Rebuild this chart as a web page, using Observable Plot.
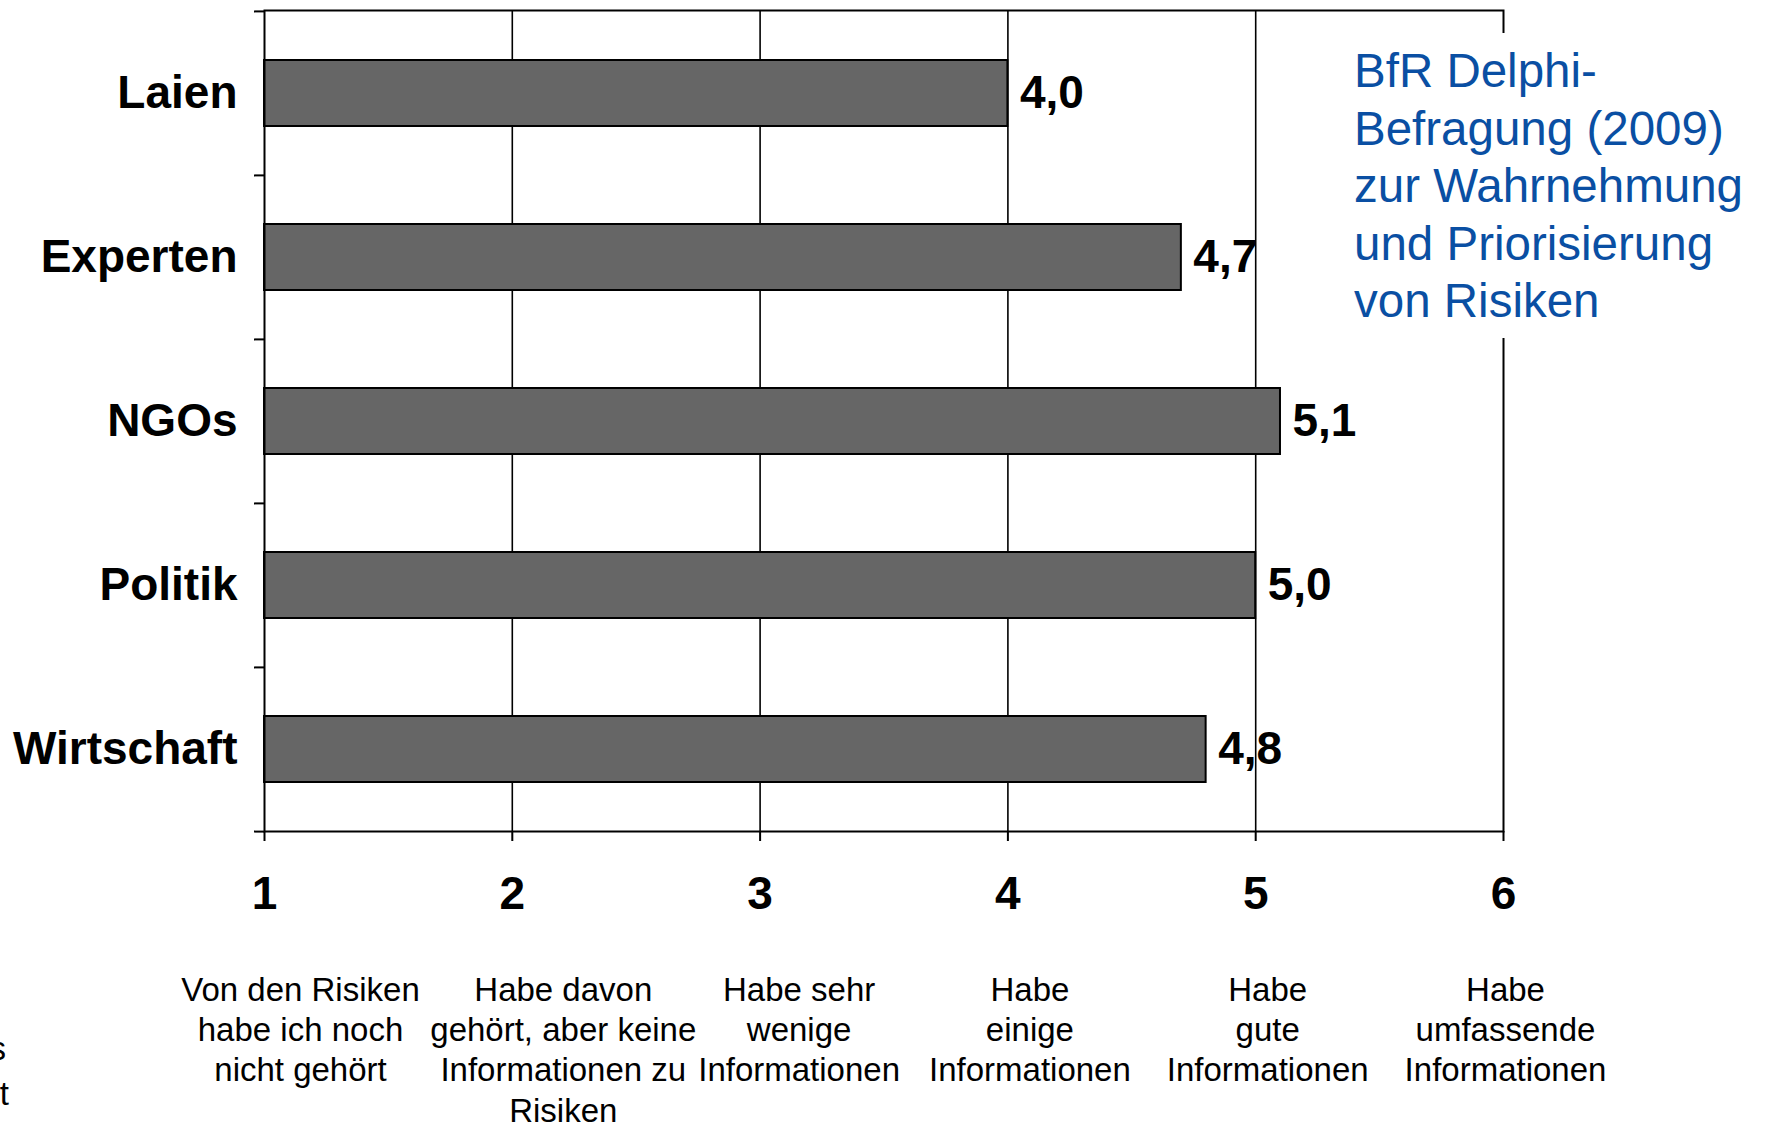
<!DOCTYPE html>
<html><head><meta charset="utf-8">
<script src="https://cdn.jsdelivr.net/npm/d3@7"></script>
<script src="https://cdn.jsdelivr.net/npm/@observablehq/plot@0.6"></script>
<style>
html,body{margin:0;padding:0;background:#fff;}
#wrap{position:relative;width:1768px;height:1123px;overflow:hidden;font-family:"Liberation Sans",Arial,sans-serif;}
#wrap svg{display:block;}
#note{position:absolute;left:1340px;top:33px;width:428px;height:305px;background:#fff;color:#0a4fa3;font-size:47.5px;line-height:57.5px;padding:9px 0 0 14px;box-sizing:border-box;white-space:nowrap;}
.cut{position:absolute;font-size:33px;line-height:40px;color:#000;text-align:right;}
</style></head>
<body><div id="wrap"></div>
<script>
const categories = ["Laien", "Experten", "NGOs", "Politik", "Wirtschaft"];
const values = [4.0, 4.7, 5.1, 5.0, 4.8];
const valueLabels = ["4,0", "4,7", "5,1", "5,0", "4,8"];
const scaleTicks = [1, 2, 3, 4, 5, 6];
const scaleLabels = [
  "Von den Risiken\nhabe ich noch\nnicht gehört",
  "Habe davon\ngehört, aber keine\nInformationen zu\nRisiken",
  "Habe sehr\nwenige\nInformationen",
  "Habe\neinige\nInformationen",
  "Habe\ngute\nInformationen",
  "Habe\numfassende\nInformationen"
];
const noteLines = ["BfR Delphi-", "Befragung (2009)", "zur Wahrnehmung", "und Priorisierung", "von Risiken"];

const W = 1768, H = 1123, mL = 264, mR = 265, mT = 10, mB = 292;
const data = categories.map((c, i) => ({cat: c, value: values[i], label: valueLabels[i]}));
const half = (H - mT - mB) / categories.length / 2;
const pxPerUnit = (W - mL - mR) / (scaleTicks[scaleTicks.length - 1] - scaleTicks[0]);
const tickLen = 10;
const descDx = [36, 51, 39, 22, 12, 2];
const descData = scaleTicks.map((t, i) => ({t, label: scaleLabels[i]}));

const plot = Plot.plot({
  width: W, height: H,
  marginLeft: mL, marginRight: mR, marginTop: mT, marginBottom: mB,
  style: {fontFamily: "'Liberation Sans', Arial, sans-serif", background: "#fff", color: "#000", overflow: "visible"},
  x: {domain: [scaleTicks[0], scaleTicks[scaleTicks.length - 1]]},
  y: {domain: categories, paddingInner: 0.6, paddingOuter: 0.3},
  marks: [
    Plot.ruleX(scaleTicks.slice(1, -1), {stroke: "#000", strokeWidth: 1.6}),
    Plot.barX(data, {y: "cat", x1: () => scaleTicks[0], x2: "value", fill: "#666666", stroke: "#000", strokeWidth: 2}),
    Plot.frame({stroke: "#000", strokeWidth: 2}),
    Plot.ruleY(categories, {y: d => d, dy: -half, x1: () => scaleTicks[0] - tickLen / pxPerUnit, x2: () => scaleTicks[0], stroke: "#000", strokeWidth: 2}),
    Plot.ruleY(categories.slice(-1), {y: d => d, dy: half, x1: () => scaleTicks[0] - tickLen / pxPerUnit, x2: () => scaleTicks[0], stroke: "#000", strokeWidth: 2}),
    Plot.axisY({tickSize: 0, tickPadding: 27, fontSize: 46, fontWeight: "bold", label: null}),
    Plot.axisX(scaleTicks, {tickSize: 10, tickPadding: 35, fontSize: 46, fontWeight: "bold", label: null, strokeWidth: 2, tickFormat: d => String(d)}),
    Plot.text(data, {y: "cat", x: "value", text: "label", textAnchor: "start", dx: 12, fontSize: 46, fontWeight: "bold", fill: "#000"}),
    ...descData.map((d, i) => Plot.text([d], {x: "t", text: "label", frameAnchor: "bottom", lineAnchor: "top", dy: 141, dx: descDx[i], fontSize: 33, lineHeight: 40.2 / 33, fill: "#000"}))
  ]
});

const wrap = document.getElementById("wrap");
wrap.appendChild(plot);
const note = document.createElement("div");
note.id = "note";
note.innerHTML = noteLines.map(s => s.replace(/&/g, "&amp;")).join("<br>");
wrap.appendChild(note);
const cut1 = document.createElement("div");
cut1.className = "cut"; cut1.style.right = (W - 6) + "px"; cut1.style.top = "1029px"; cut1.textContent = "s";
const cut2 = document.createElement("div");
cut2.className = "cut"; cut2.style.right = (W - 9) + "px"; cut2.style.top = "1074px"; cut2.textContent = "t";
wrap.appendChild(cut1); wrap.appendChild(cut2);
</script>
</body></html>
